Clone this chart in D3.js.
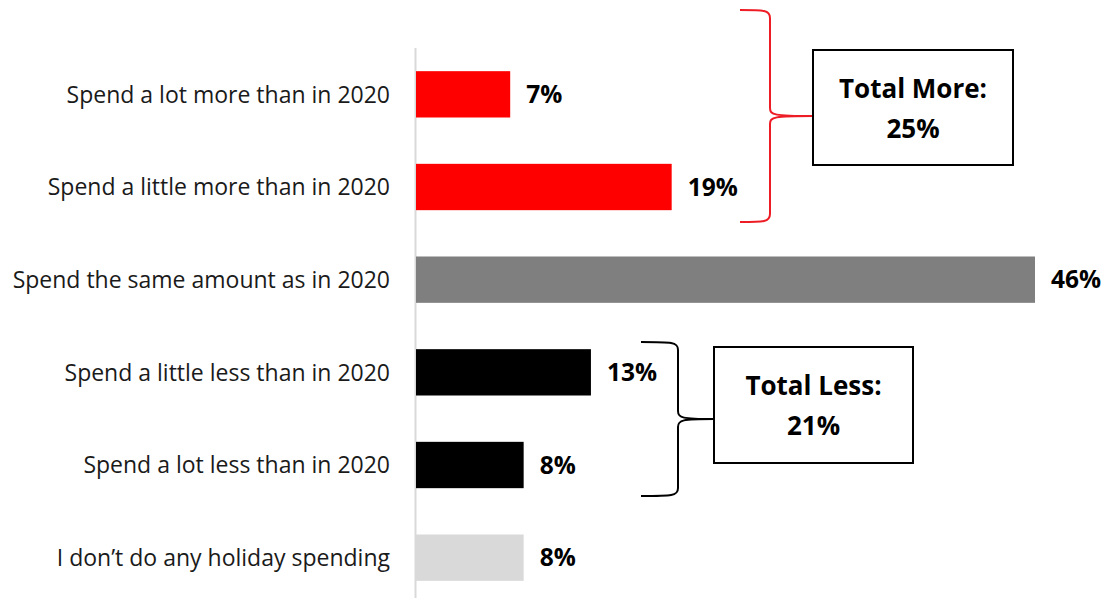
<!DOCTYPE html>
<html>
<head>
<meta charset="utf-8">
<script src="https://cdn.jsdelivr.net/npm/d3@7/dist/d3.min.js"></script>
<style>
  html, body { margin: 0; padding: 0; background: #fff; }
  svg { display: block; }
  text { font-family: "Open Sans", "Liberation Sans", sans-serif; }
</style>
</head>
<body>
<svg id="chart" width="1105" height="598"></svg>
<script>
// Holiday spending intentions compared with 2020
const categories = [
  "Spend a lot more than in 2020",
  "Spend a little more than in 2020",
  "Spend the same amount as in 2020",
  "Spend a little less than in 2020",
  "Spend a lot less than in 2020",
  "I don\u2019t do any holiday spending"
];
const values = [7, 19, 46, 13, 8, 8];
const barColors = ["#ff0000", "#ff0000", "#7f7f7f", "#000000", "#000000", "#d9d9d9"];

// Grouped totals shown beside the braces
const groupLabels = ["Total More:", "Total Less:"];
const groupValues = [25, 21];
const groupColors = ["#ee1c25", "#000000"];

const svg = d3.select("#chart");

const x = d3.scaleLinear().domain([0, 46]).range([416, 1035]);
const y = d3.scaleBand().domain(categories).range([48, 604]).paddingInner(0.5).paddingOuter(0.25);

// vertical category axis line
svg.append("line")
  .attr("x1", 415.5).attr("x2", 415.5)
  .attr("y1", 48).attr("y2", 598)
  .attr("stroke", "#d9d9d9").attr("stroke-width", 2);

// bars
svg.selectAll("rect.bar")
  .data(values)
  .join("rect")
  .attr("class", "bar")
  .attr("x", x(0))
  .attr("y", (d, i) => y(categories[i]))
  .attr("width", d => x(d) - x(0))
  .attr("height", y.bandwidth())
  .attr("fill", (d, i) => barColors[i]);

// category labels
svg.selectAll("text.cat")
  .data(categories)
  .join("text")
  .attr("class", "cat")
  .attr("x", 390)
  .attr("y", d => y(d) + y.bandwidth() / 2)
  .attr("dy", "0.36em")
  .attr("text-anchor", "end")
  .attr("font-size", 23)
  .attr("fill", "#1a1a1a")
  .text(d => d);

// value labels
svg.selectAll("text.val")
  .data(values)
  .join("text")
  .attr("class", "val")
  .attr("x", d => x(d) + 16)
  .attr("y", (d, i) => y(categories[i]) + y.bandwidth() / 2)
  .attr("dy", "0.36em")
  .attr("font-size", 24.5)
  .attr("font-weight", "bold")
  .attr("fill", "#000")
  .text(d => d + "%");

// curly brace from (bx, top) to (bx, bottom) with tip at tipX
function bracePath(x0, bx, tipX, top, bottom) {
  const mid = (top + bottom) / 2;
  const r = 8;
  return `M${x0},${top} C${bx - 6},${top} ${bx},${top} ${bx},${top + r}` +
    ` L${bx},${mid - r} C${bx},${mid - 1} ${bx + 4},${mid} ${tipX},${mid}` +
    ` M${tipX},${mid} C${bx + 4},${mid} ${bx},${mid + 1} ${bx},${mid + r}` +
    ` L${bx},${bottom - r} C${bx},${bottom} ${bx - 6},${bottom} ${x0},${bottom}`;
}

const braceGeom = [
  { x0: 740, bx: 770, tip: 813, top: 10, bottom: 222, boxY: 50, boxW: 200, boxH: 115 },
  { x0: 641, bx: 678, tip: 714, top: 342, bottom: 496, boxY: 347, boxW: 199, boxH: 116 }
];

groupLabels.forEach((label, g) => {
  const b = braceGeom[g];
  svg.append("path")
    .attr("d", bracePath(b.x0, b.bx, b.tip, b.top, b.bottom))
    .attr("fill", "none")
    .attr("stroke", groupColors[g])
    .attr("stroke-width", 2);
  svg.append("rect")
    .attr("x", b.tip).attr("y", b.boxY)
    .attr("width", b.boxW).attr("height", b.boxH)
    .attr("fill", "#fff").attr("stroke", "#000").attr("stroke-width", 2);
  const cx = b.tip + b.boxW / 2;
  const t = svg.append("text")
    .attr("x", cx).attr("text-anchor", "middle")
    .attr("font-size", 26).attr("font-weight", "bold").attr("fill", "#000");
  t.append("tspan").attr("x", cx).attr("y", b.boxY + b.boxH / 2 - 10).text(label);
  t.append("tspan").attr("x", cx).attr("y", b.boxY + b.boxH / 2 + 30).text(groupValues[g] + "%");
});
</script>
</body>
</html>
